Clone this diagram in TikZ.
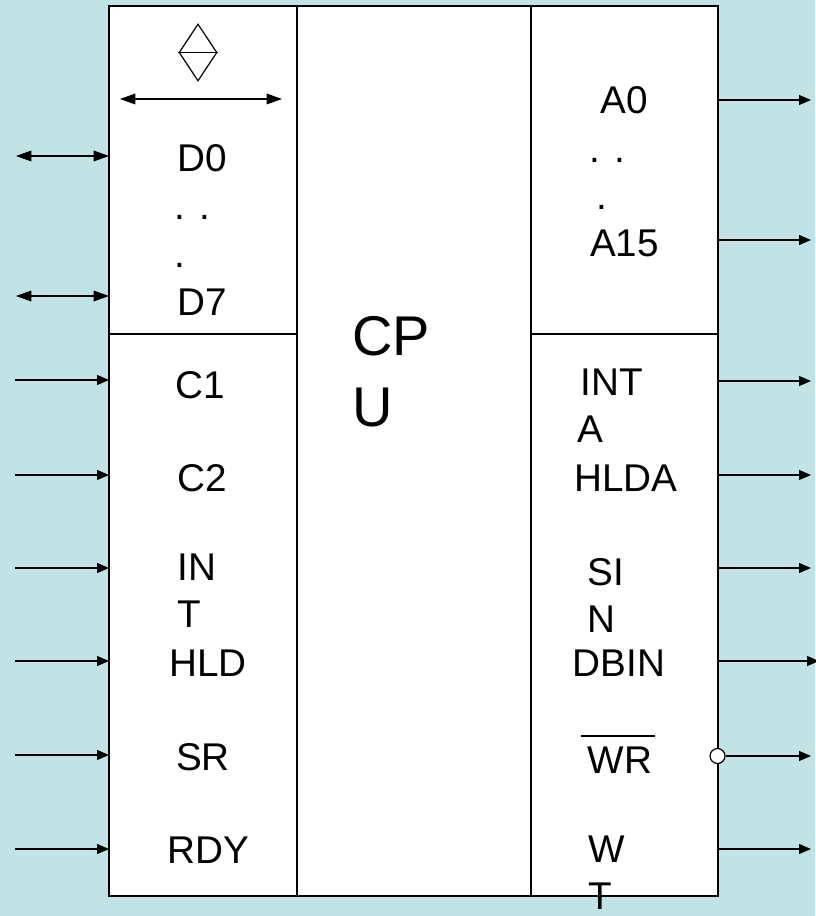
\documentclass[tikz,border=0pt]{standalone}
\usepackage{fontspec}
\setmainfont{Liberation Sans}
\usetikzlibrary{arrows.meta,shapes.geometric}
\definecolor{pagebg}{HTML}{C2E3E5}
\tikzset{
    panel/.style={draw, fill=white, line width=0.9pt, inner sep=0pt, outer sep=0pt},
    pin/.style={font=\fontsize{29}{35.25}\selectfont, align=left, inner sep=0pt},
    wire/.style={line width=0.9pt, -{Triangle[length=9pt,width=7.5pt]}},
    biwire/.style={line width=0.9pt, {Triangle[length=11.5pt,width=8pt]}-{Triangle[length=11.5pt,width=8pt]}},
}

\begin{document}
\begin{tikzpicture}[x=0.75pt,y=0.75pt,yscale=-1]

    \fill [pagebg] (0,0) rectangle (815,916);
    \useasboundingbox (0,0) rectangle (815,916);

    % panels
    \draw (203,170) node [panel, minimum width=141pt, minimum height=246pt] (dataPanel) {};
    \draw (203,615) node [panel, minimum width=141pt, minimum height=421.5pt] (ctrlPanel) {};
    \draw (414,451) node [panel, minimum width=175.5pt, minimum height=667.5pt] (cpuPanel) {};
    \draw (624.5,170) node [panel, minimum width=140.25pt, minimum height=246pt] (addrPanel) {};
    \draw (624.5,615) node [panel, minimum width=140.25pt, minimum height=421.5pt] (statPanel) {};

    % bus symbol
    \draw (198,52.5) node [diamond, draw, line width=0.9pt, minimum width=28.5pt, minimum height=42.75pt, inner sep=0pt] (busMark) {};
    \draw [line width=0.9pt] (busMark.west) -- (busMark.east);
    \coordinate (busL) at (120,99);
    \coordinate (busR) at (282,99);
    \draw [biwire] (busL) -- (busR);

    % left labels
    \draw (202,158) node [pin] (D0) {D0};
    \draw (192,217) node [pin] (dotsA) {. .};
    \draw (180,265) node [pin] (dotsB) {.};
    \draw (202,302) node [pin] (D7) {D7};
    \draw (200,385) node [pin] (C1) {C1};
    \draw (202,478) node [pin] (C2) {C2};
    \draw (197,591) node [pin] (INT) {IN\\T};
    \draw (208,663) node [pin] (HLD) {HLD};
    \draw (203,757) node [pin] (SR) {SR};
    \draw (208,850) node [pin] (RDY) {RDY};

    % centre label
    \draw (391,372) node [font=\fontsize{42}{53}\selectfont, align=left, inner sep=0pt] (CPU) {CP\\U};

    % right labels
    \draw (624,100) node [pin] (A0) {A0};
    \draw (607,160) node [pin] (dotsC) {. .};
    \draw (602,207) node [pin] (dotsD) {.};
    \draw (624.5,243) node [pin] (A15) {A15};
    \draw (612,406) node [pin] (INTA) {INT\\\hspace*{-2.25pt}A};
    \draw (626,478) node [pin] (HLDA) {HLDA};
    \draw (605.5,595) node [pin] (SIN) {SI\\N};
    \draw (619,663) node [pin] (DBIN) {DBIN};
    \draw (620,760) node [pin] (WR) {WR};
    \draw (607,873) node [pin] (WT) {W\\T};
    \coordinate (wrBarL) at (581,736);
    \coordinate (wrBarR) at (655,736);
    \draw [line width=0.8pt] (wrBarL) -- (wrBarR);

    % data pins
    \coordinate (pinD0) at (16,156);
    \coordinate (pinD7) at (16,296);
    \coordinate (edgeD0) at (109,156);
    \coordinate (edgeD7) at (109,296);
    \draw [biwire] (pinD0) -- (edgeD0);
    \draw [biwire] (pinD7) -- (edgeD7);

    % input pins
    \foreach \name/\ypos in {C1/380,C2/475,INT/568,HLD/661,SR/755,RDY/849} {
        \coordinate (pin\name) at (15,\ypos);
        \coordinate (edge\name) at (109,\ypos);
        \draw [wire] (pin\name) -- (edge\name);
    }

    % output pins
    \foreach \name/\ypos/\xend in {A0/100/811,A15/240/811,INTA/381/811,HLDA/475/811,SIN/568/811,DBIN/661/819,WT/849/811} {
        \coordinate (edge\name) at (718,\ypos);
        \coordinate (pin\name) at (\xend,\ypos);
        \draw [wire] (edge\name) -- (pin\name);
    }

    % inverted output
    \draw (717.5,756) node [circle, draw, fill=white, line width=0.9pt, minimum size=11.25pt, inner sep=0pt] (notWR) {};
    \coordinate (pinWR) at (811,756);
    \draw [wire] (notWR) -- (pinWR);

\end{tikzpicture}
\end{document}
